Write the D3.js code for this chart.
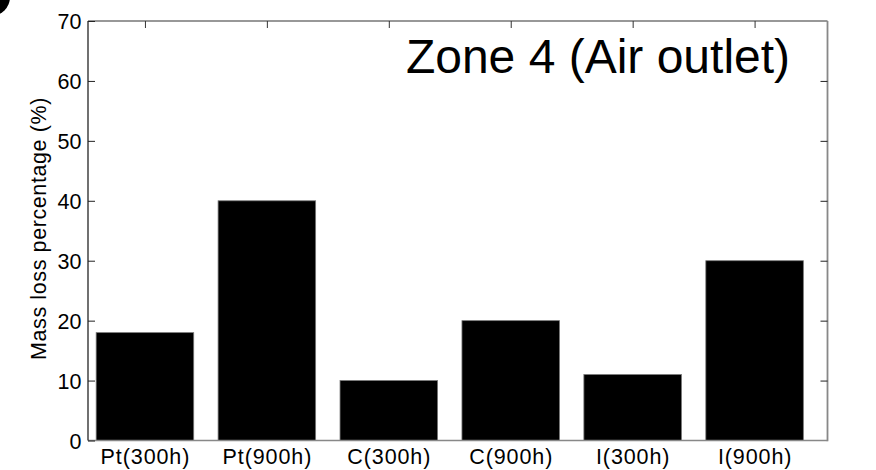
<!DOCTYPE html>
<html>
<head>
<meta charset="utf-8">
<script src="https://cdn.jsdelivr.net/npm/d3@7"></script>
<style>
html,body{margin:0;padding:0;background:#fff;}
svg{display:block;}
text{font-family:"Liberation Sans",Arial,sans-serif;fill:#000;}
</style>
</head>
<body>
<svg id="chart" width="876" height="470"></svg>
<script>
const categories = ["Pt(300h)", "Pt(900h)", "C(300h)", "C(900h)", "I(300h)", "I(900h)"];
const values = [18, 40, 10, 20, 11, 30];
const yTicks = [0, 10, 20, 30, 40, 50, 60, 70];
const title = "Zone 4 (Air outlet)";
const yLabel = "Mass loss percentage (%)";

const svg = d3.select("#chart");
const L = 88, R = 827.5, T = 21, B = 440.5;

// positional scale: categories at 1..n (MATLAB style)
const x = d3.scaleLinear().domain([0.533, 6.598]).range([L, R]);
const y = d3.scaleLinear().domain([0, 70]).range([B, T]);
const barW = 0.8;

// corner fragment (cropped panel letter)
svg.append("circle").attr("cx", -9).attr("cy", -3).attr("r", 19).attr("fill", "#000");

// bars
svg.append("g").selectAll("rect").data(values).join("rect")
  .attr("x", (d, i) => x(i + 1 - barW / 2))
  .attr("width", (d, i) => x(i + 1 + barW / 2) - x(i + 1 - barW / 2))
  .attr("y", d => y(d))
  .attr("height", d => y(0) - y(d))
  .attr("fill", "#000")
  .attr("stroke", "#777")
  .attr("stroke-width", 0.8);

// axes frame
const ax = svg.append("g");
ax.append("line").attr("x1", L).attr("x2", R).attr("y1", T).attr("y2", T).attr("stroke", "#333").attr("stroke-width", 1.2);
ax.append("line").attr("x1", L).attr("x2", R).attr("y1", B).attr("y2", B).attr("stroke", "#888").attr("stroke-width", 1.6);
ax.append("line").attr("x1", L).attr("x2", L).attr("y1", T).attr("y2", B).attr("stroke", "#111").attr("stroke-width", 1.2);
ax.append("line").attr("x1", R).attr("x2", R).attr("y1", T).attr("y2", B + 0.8).attr("stroke", "#888").attr("stroke-width", 1.8);

// y axis ticks (left, inward) via d3 axis
const yAxis = svg.append("g").attr("transform", `translate(${L},0)`)
  .call(d3.axisLeft(y).tickValues(yTicks).tickSize(-7).tickPadding(6.5).tickFormat(d3.format("d")));
yAxis.select(".domain").remove();
yAxis.selectAll(".tick line").attr("stroke", "#222").attr("stroke-width", 1);
yAxis.selectAll("text").attr("font-size", 21.5).attr("fill", "#000")
  .attr("font-family", "Liberation Sans, Arial, sans-serif").attr("dy", "0.36em");

// right axis ticks (inward)
const yAxisR = svg.append("g").attr("transform", `translate(${R},0)`)
  .call(d3.axisRight(y).tickValues(yTicks.filter(v => v > 0 && v < 70)).tickSize(-7).tickFormat(""));
yAxisR.select(".domain").remove();
yAxisR.selectAll(".tick line").attr("stroke", "#222").attr("stroke-width", 1);

// top ticks (inward) at categories
const xTop = svg.append("g").attr("transform", `translate(0,${T})`)
  .call(d3.axisTop(x).tickValues(d3.range(1, categories.length + 1)).tickSize(-7).tickFormat(""));
xTop.select(".domain").remove();
xTop.selectAll(".tick line").attr("stroke", "#333").attr("stroke-width", 1);

// bottom category labels
const xBot = svg.append("g").attr("transform", `translate(0,${B})`)
  .call(d3.axisBottom(x).tickValues(d3.range(1, categories.length + 1)).tickSize(0).tickPadding(8)
    .tickFormat(d => categories[d - 1]));
xBot.select(".domain").remove();
xBot.selectAll("text").attr("font-size", 21.5).attr("fill", "#000")
  .attr("letter-spacing", 0.9)
  .attr("font-family", "Liberation Sans, Arial, sans-serif");

// title
svg.append("text").attr("x", 598).attr("y", 72.5).attr("text-anchor", "middle")
  .attr("font-size", 48).text(title);

// y label
svg.append("text").attr("transform", "translate(45.5,228.5) rotate(-90)").attr("text-anchor", "middle")
  .attr("font-size", 21.5).attr("letter-spacing", 0.6).text(yLabel);
</script>
</body>
</html>
